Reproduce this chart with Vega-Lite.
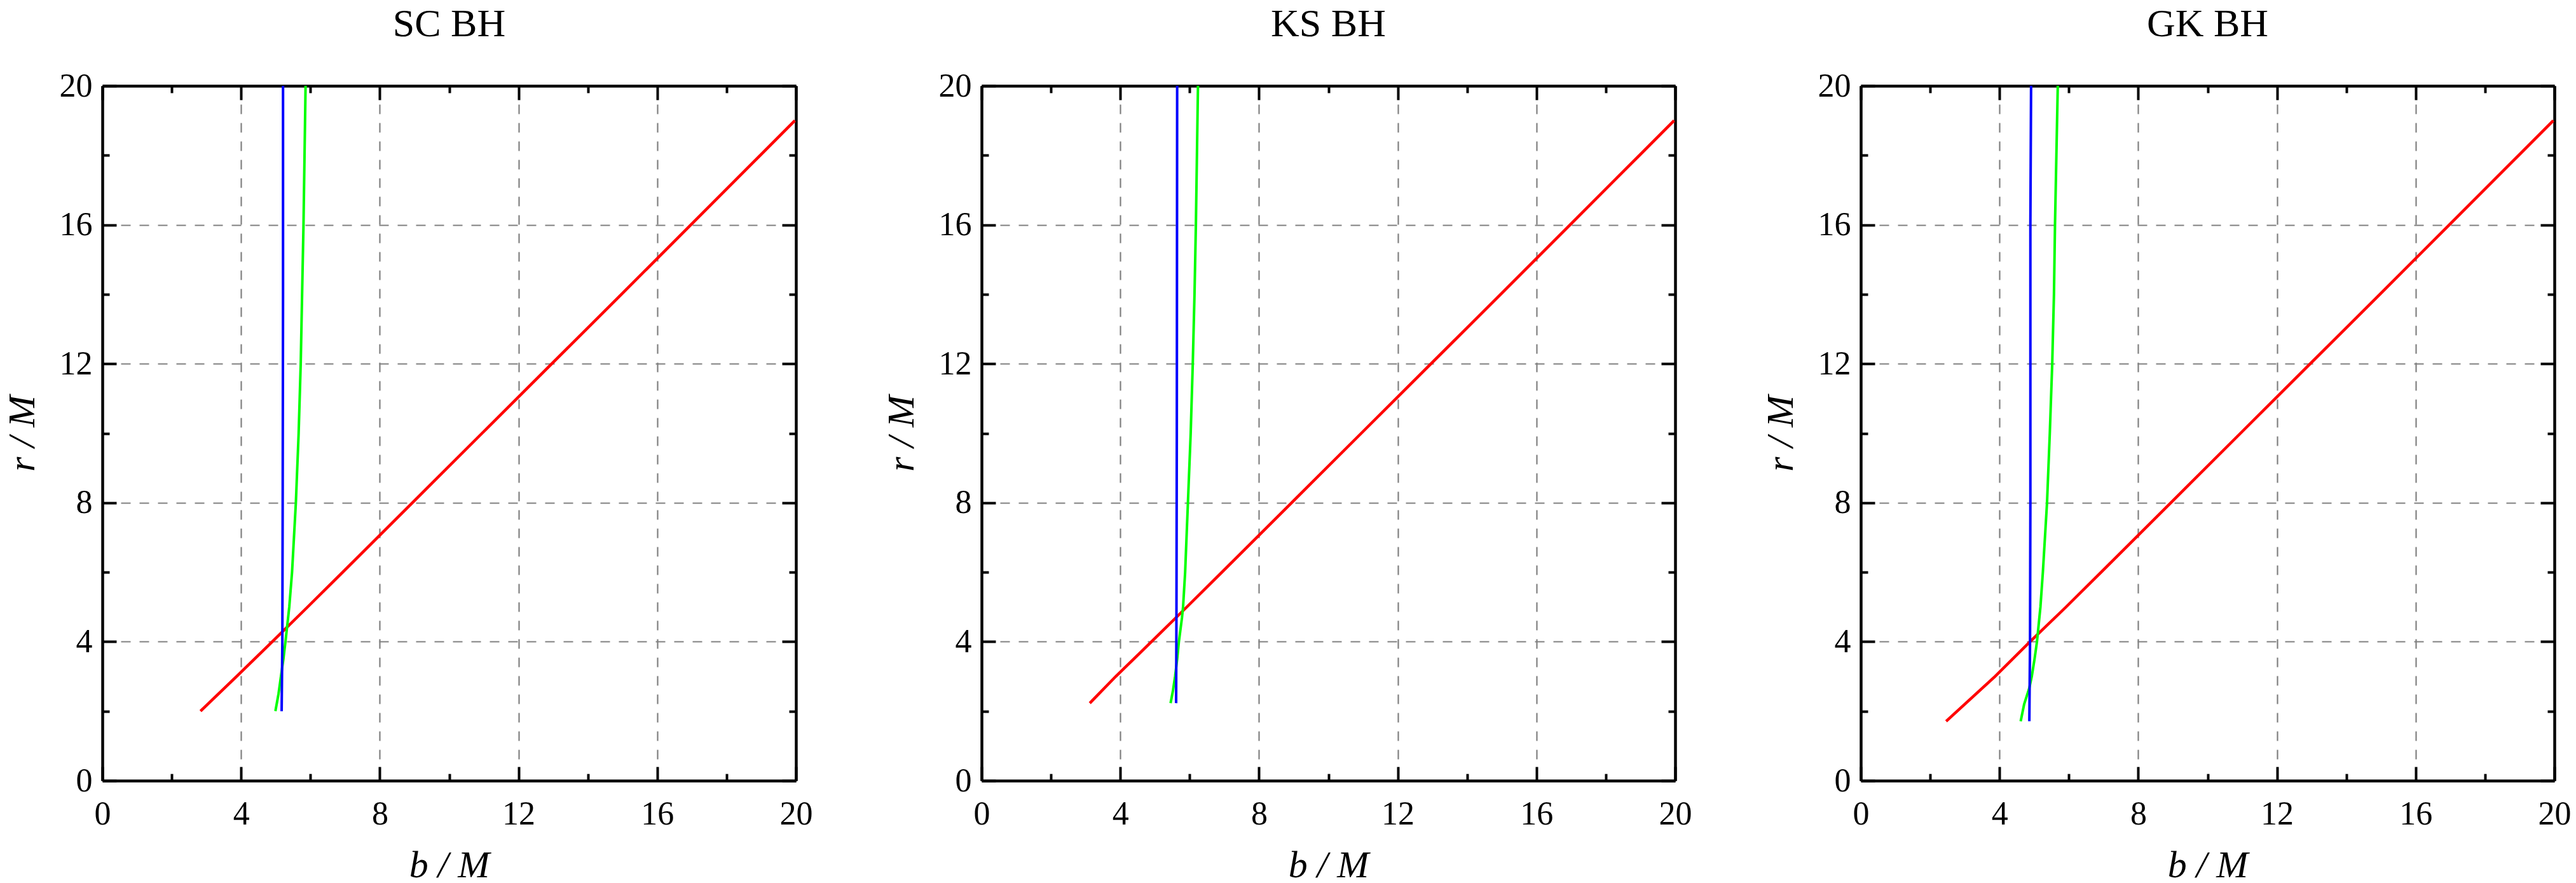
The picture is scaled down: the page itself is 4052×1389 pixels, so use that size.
{
  "$schema": "https://vega.github.io/schema/vega-lite/v6.json",
  "bounds": "flush",
  "padding": {"left": 5, "top": 7, "right": 10, "bottom": 5},
  "config": {
    "font": "Liberation Serif",
    "view": {"stroke": null},
    "concat": {"spacing": 292},
    "axis": {
      "domainColor": "black", "domainWidth": 4.5,
      "tickColor": "black", "tickWidth": 4, "tickSize": -22,
      "labelFont": "Liberation Serif", "labelFontSize": 52, "labelColor": "black", "labelFlush": false, "labelOverlap": false,
      "titleFont": "Liberation Serif", "titleFontSize": 60, "titleFontStyle": "italic", "titleFontWeight": "normal", "titleColor": "black",
      "gridColor": "#808080", "gridDash": [15, 14], "gridWidth": 2.2
    },
    "axisX": {"labelPadding": 49, "titlePadding": 26},
    "axisY": {"labelPadding": 38, "titlePadding": 27},
    "title": {"font": "Liberation Serif", "fontSize": 62, "fontWeight": "normal", "color": "black", "baseline": "alphabetic", "offset": 39, "anchor": "middle", "frame": "group"}
  },
  "datasets": {
    "curves": [
      {"p": "SC", "c": "red", "b": 2.83, "r": 2}, {"p": "SC", "c": "red", "b": 3.87, "r": 3}, {"p": "SC", "c": "red", "b": 4.90, "r": 4},
      {"p": "SC", "c": "red", "b": 5.92, "r": 5}, {"p": "SC", "c": "red", "b": 6.93, "r": 6}, {"p": "SC", "c": "red", "b": 8.94, "r": 8},
      {"p": "SC", "c": "red", "b": 10.95, "r": 10}, {"p": "SC", "c": "red", "b": 12.96, "r": 12}, {"p": "SC", "c": "red", "b": 14.97, "r": 14},
      {"p": "SC", "c": "red", "b": 16.97, "r": 16}, {"p": "SC", "c": "red", "b": 18.97, "r": 18}, {"p": "SC", "c": "red", "b": 19.97, "r": 19},
      {"p": "SC", "c": "green", "b": 4.99, "r": 2}, {"p": "SC", "c": "green", "b": 5.08, "r": 2.5}, {"p": "SC", "c": "green", "b": 5.15, "r": 3},
      {"p": "SC", "c": "green", "b": 5.22, "r": 3.5}, {"p": "SC", "c": "green", "b": 5.28, "r": 4}, {"p": "SC", "c": "green", "b": 5.39, "r": 5},
      {"p": "SC", "c": "green", "b": 5.47, "r": 6}, {"p": "SC", "c": "green", "b": 5.58, "r": 8}, {"p": "SC", "c": "green", "b": 5.66, "r": 10},
      {"p": "SC", "c": "green", "b": 5.72, "r": 12}, {"p": "SC", "c": "green", "b": 5.76, "r": 14}, {"p": "SC", "c": "green", "b": 5.80, "r": 16},
      {"p": "SC", "c": "green", "b": 5.83, "r": 18}, {"p": "SC", "c": "green", "b": 5.86, "r": 20},
      {"p": "SC", "c": "blue", "b": 5.17, "r": 2}, {"p": "SC", "c": "blue", "b": 5.19, "r": 4}, {"p": "SC", "c": "blue", "b": 5.20, "r": 8},
      {"p": "SC", "c": "blue", "b": 5.21, "r": 14}, {"p": "SC", "c": "blue", "b": 5.21, "r": 20},

      {"p": "KS", "c": "red", "b": 3.12, "r": 2.23}, {"p": "KS", "c": "red", "b": 3.87, "r": 3}, {"p": "KS", "c": "red", "b": 4.90, "r": 4},
      {"p": "KS", "c": "red", "b": 5.92, "r": 5}, {"p": "KS", "c": "red", "b": 6.93, "r": 6}, {"p": "KS", "c": "red", "b": 8.94, "r": 8},
      {"p": "KS", "c": "red", "b": 10.95, "r": 10}, {"p": "KS", "c": "red", "b": 12.96, "r": 12}, {"p": "KS", "c": "red", "b": 14.97, "r": 14},
      {"p": "KS", "c": "red", "b": 16.97, "r": 16}, {"p": "KS", "c": "red", "b": 18.97, "r": 18}, {"p": "KS", "c": "red", "b": 19.97, "r": 19},
      {"p": "KS", "c": "green", "b": 5.45, "r": 2.23}, {"p": "KS", "c": "green", "b": 5.52, "r": 2.6}, {"p": "KS", "c": "green", "b": 5.58, "r": 3},
      {"p": "KS", "c": "green", "b": 5.64, "r": 3.5}, {"p": "KS", "c": "green", "b": 5.69, "r": 4}, {"p": "KS", "c": "green", "b": 5.78, "r": 4.7},
      {"p": "KS", "c": "green", "b": 5.81, "r": 5}, {"p": "KS", "c": "green", "b": 5.87, "r": 6}, {"p": "KS", "c": "green", "b": 5.95, "r": 8},
      {"p": "KS", "c": "green", "b": 6.03, "r": 10}, {"p": "KS", "c": "green", "b": 6.09, "r": 12}, {"p": "KS", "c": "green", "b": 6.14, "r": 14},
      {"p": "KS", "c": "green", "b": 6.18, "r": 16}, {"p": "KS", "c": "green", "b": 6.21, "r": 18}, {"p": "KS", "c": "green", "b": 6.24, "r": 20},
      {"p": "KS", "c": "blue", "b": 5.61, "r": 2.23}, {"p": "KS", "c": "blue", "b": 5.62, "r": 5}, {"p": "KS", "c": "blue", "b": 5.63, "r": 10},
      {"p": "KS", "c": "blue", "b": 5.64, "r": 20},

      {"p": "GK", "c": "red", "b": 2.46, "r": 1.71}, {"p": "GK", "c": "red", "b": 3.87, "r": 3}, {"p": "GK", "c": "red", "b": 4.88, "r": 4},
      {"p": "GK", "c": "red", "b": 5.92, "r": 5}, {"p": "GK", "c": "red", "b": 6.93, "r": 6}, {"p": "GK", "c": "red", "b": 8.94, "r": 8},
      {"p": "GK", "c": "red", "b": 10.95, "r": 10}, {"p": "GK", "c": "red", "b": 12.96, "r": 12}, {"p": "GK", "c": "red", "b": 14.97, "r": 14},
      {"p": "GK", "c": "red", "b": 16.97, "r": 16}, {"p": "GK", "c": "red", "b": 18.97, "r": 18}, {"p": "GK", "c": "red", "b": 19.97, "r": 19},
      {"p": "GK", "c": "green", "b": 4.61, "r": 1.71}, {"p": "GK", "c": "green", "b": 4.71, "r": 2.2}, {"p": "GK", "c": "green", "b": 4.86, "r": 2.67},
      {"p": "GK", "c": "green", "b": 4.93, "r": 3}, {"p": "GK", "c": "green", "b": 5.01, "r": 3.5}, {"p": "GK", "c": "green", "b": 5.08, "r": 4},
      {"p": "GK", "c": "green", "b": 5.18, "r": 5}, {"p": "GK", "c": "green", "b": 5.25, "r": 6}, {"p": "GK", "c": "green", "b": 5.37, "r": 8},
      {"p": "GK", "c": "green", "b": 5.45, "r": 10}, {"p": "GK", "c": "green", "b": 5.52, "r": 12}, {"p": "GK", "c": "green", "b": 5.57, "r": 14},
      {"p": "GK", "c": "green", "b": 5.60, "r": 16}, {"p": "GK", "c": "green", "b": 5.64, "r": 18}, {"p": "GK", "c": "green", "b": 5.68, "r": 20},
      {"p": "GK", "c": "blue", "b": 4.86, "r": 1.71}, {"p": "GK", "c": "blue", "b": 4.88, "r": 4}, {"p": "GK", "c": "blue", "b": 4.89, "r": 8},
      {"p": "GK", "c": "blue", "b": 4.89, "r": 16}, {"p": "GK", "c": "blue", "b": 4.91, "r": 20}
    ]
  },
  "hconcat": [
    {
      "title": "SC BH",
      "width": 1091, "height": 1093,
      "data": {"name": "curves"},
      "transform": [{"filter": "datum.p === 'SC'"}],
      "encoding": {
        "color": {"field": "c", "type": "nominal", "scale": {"domain": ["red", "green", "blue"], "range": ["#ff0000", "#00ff00", "#0000ff"]}, "legend": null},
        "order": {"field": "r", "type": "quantitative"}
      },
      "layer": [
        {
          "transform": [{"filter": "datum.c === 'red'"}],
          "mark": {"type": "line", "strokeWidth": 4.5, "clip": true},
          "encoding": {
            "x": {"field": "b", "type": "quantitative", "scale": {"domain": [0, 20], "nice": false, "zero": false},
              "axis": {"orient": "bottom", "title": "b / M", "values": [0, 2, 4, 6, 8, 10, 12, 14, 16, 18, 20], "grid": true,
                "gridOpacity": {"condition": {"test": "datum.value % 4 === 0 && datum.value > 0 && datum.value < 20", "value": 1}, "value": 0},
                "labelExpr": "datum.value % 4 === 0 ? datum.label : ''",
                "tickDash": {"condition": {"test": "datum.value % 4 !== 0", "value": [11, 60]}, "value": []}}},
            "y": {"field": "r", "type": "quantitative", "scale": {"domain": [0, 20], "nice": false, "zero": false},
              "axis": {"orient": "left", "title": "r / M", "values": [0, 2, 4, 6, 8, 10, 12, 14, 16, 18, 20], "grid": true,
                "gridOpacity": {"condition": {"test": "datum.value % 4 === 0 && datum.value > 0 && datum.value < 20", "value": 1}, "value": 0},
                "labelExpr": "datum.value % 4 === 0 ? datum.label : ''",
                "tickDash": {"condition": {"test": "datum.value % 4 !== 0", "value": [11, 60]}, "value": []}}}
          }
        },
        {
          "transform": [{"filter": "datum.c === 'green'"}],
          "mark": {"type": "line", "strokeWidth": 4, "clip": true},
          "encoding": {
            "x": {"field": "b", "type": "quantitative", "scale": {"domain": [0, 20], "nice": false, "zero": false},
              "axis": {"orient": "top", "title": null, "labels": false, "grid": false, "values": [0, 2, 4, 6, 8, 10, 12, 14, 16, 18, 20],
                "tickDash": {"condition": {"test": "datum.value % 4 !== 0", "value": [11, 60]}, "value": []}}},
            "y": {"field": "r", "type": "quantitative", "scale": {"domain": [0, 20], "nice": false, "zero": false},
              "axis": {"orient": "right", "title": null, "labels": false, "grid": false, "values": [0, 2, 4, 6, 8, 10, 12, 14, 16, 18, 20],
                "tickDash": {"condition": {"test": "datum.value % 4 !== 0", "value": [11, 60]}, "value": []}}}
          }
        },
        {
          "transform": [{"filter": "datum.c === 'blue'"}],
          "mark": {"type": "line", "strokeWidth": 4, "clip": true},
          "encoding": {
            "x": {"field": "b", "type": "quantitative", "scale": {"domain": [0, 20], "nice": false, "zero": false}, "axis": null},
            "y": {"field": "r", "type": "quantitative", "scale": {"domain": [0, 20], "nice": false, "zero": false}, "axis": null}
          }
        }
      ],
      "resolve": {"axis": {"x": "independent", "y": "independent"}}
    },
    {
      "title": "KS BH",
      "width": 1091, "height": 1093,
      "data": {"name": "curves"},
      "transform": [{"filter": "datum.p === 'KS'"}],
      "encoding": {
        "color": {"field": "c", "type": "nominal", "scale": {"domain": ["red", "green", "blue"], "range": ["#ff0000", "#00ff00", "#0000ff"]}, "legend": null},
        "order": {"field": "r", "type": "quantitative"}
      },
      "layer": [
        {
          "transform": [{"filter": "datum.c === 'red'"}],
          "mark": {"type": "line", "strokeWidth": 4.5, "clip": true},
          "encoding": {
            "x": {"field": "b", "type": "quantitative", "scale": {"domain": [0, 20], "nice": false, "zero": false},
              "axis": {"orient": "bottom", "title": "b / M", "values": [0, 2, 4, 6, 8, 10, 12, 14, 16, 18, 20], "grid": true,
                "gridOpacity": {"condition": {"test": "datum.value % 4 === 0 && datum.value > 0 && datum.value < 20", "value": 1}, "value": 0},
                "labelExpr": "datum.value % 4 === 0 ? datum.label : ''",
                "tickDash": {"condition": {"test": "datum.value % 4 !== 0", "value": [11, 60]}, "value": []}}},
            "y": {"field": "r", "type": "quantitative", "scale": {"domain": [0, 20], "nice": false, "zero": false},
              "axis": {"orient": "left", "title": "r / M", "values": [0, 2, 4, 6, 8, 10, 12, 14, 16, 18, 20], "grid": true,
                "gridOpacity": {"condition": {"test": "datum.value % 4 === 0 && datum.value > 0 && datum.value < 20", "value": 1}, "value": 0},
                "labelExpr": "datum.value % 4 === 0 ? datum.label : ''",
                "tickDash": {"condition": {"test": "datum.value % 4 !== 0", "value": [11, 60]}, "value": []}}}
          }
        },
        {
          "transform": [{"filter": "datum.c === 'green'"}],
          "mark": {"type": "line", "strokeWidth": 4, "clip": true},
          "encoding": {
            "x": {"field": "b", "type": "quantitative", "scale": {"domain": [0, 20], "nice": false, "zero": false},
              "axis": {"orient": "top", "title": null, "labels": false, "grid": false, "values": [0, 2, 4, 6, 8, 10, 12, 14, 16, 18, 20],
                "tickDash": {"condition": {"test": "datum.value % 4 !== 0", "value": [11, 60]}, "value": []}}},
            "y": {"field": "r", "type": "quantitative", "scale": {"domain": [0, 20], "nice": false, "zero": false},
              "axis": {"orient": "right", "title": null, "labels": false, "grid": false, "values": [0, 2, 4, 6, 8, 10, 12, 14, 16, 18, 20],
                "tickDash": {"condition": {"test": "datum.value % 4 !== 0", "value": [11, 60]}, "value": []}}}
          }
        },
        {
          "transform": [{"filter": "datum.c === 'blue'"}],
          "mark": {"type": "line", "strokeWidth": 4, "clip": true},
          "encoding": {
            "x": {"field": "b", "type": "quantitative", "scale": {"domain": [0, 20], "nice": false, "zero": false}, "axis": null},
            "y": {"field": "r", "type": "quantitative", "scale": {"domain": [0, 20], "nice": false, "zero": false}, "axis": null}
          }
        }
      ],
      "resolve": {"axis": {"x": "independent", "y": "independent"}}
    },
    {
      "title": "GK BH",
      "width": 1091, "height": 1093,
      "data": {"name": "curves"},
      "transform": [{"filter": "datum.p === 'GK'"}],
      "encoding": {
        "color": {"field": "c", "type": "nominal", "scale": {"domain": ["red", "green", "blue"], "range": ["#ff0000", "#00ff00", "#0000ff"]}, "legend": null},
        "order": {"field": "r", "type": "quantitative"}
      },
      "layer": [
        {
          "transform": [{"filter": "datum.c === 'red'"}],
          "mark": {"type": "line", "strokeWidth": 4.5, "clip": true},
          "encoding": {
            "x": {"field": "b", "type": "quantitative", "scale": {"domain": [0, 20], "nice": false, "zero": false},
              "axis": {"orient": "bottom", "title": "b / M", "values": [0, 2, 4, 6, 8, 10, 12, 14, 16, 18, 20], "grid": true,
                "gridOpacity": {"condition": {"test": "datum.value % 4 === 0 && datum.value > 0 && datum.value < 20", "value": 1}, "value": 0},
                "labelExpr": "datum.value % 4 === 0 ? datum.label : ''",
                "tickDash": {"condition": {"test": "datum.value % 4 !== 0", "value": [11, 60]}, "value": []}}},
            "y": {"field": "r", "type": "quantitative", "scale": {"domain": [0, 20], "nice": false, "zero": false},
              "axis": {"orient": "left", "title": "r / M", "values": [0, 2, 4, 6, 8, 10, 12, 14, 16, 18, 20], "grid": true,
                "gridOpacity": {"condition": {"test": "datum.value % 4 === 0 && datum.value > 0 && datum.value < 20", "value": 1}, "value": 0},
                "labelExpr": "datum.value % 4 === 0 ? datum.label : ''",
                "tickDash": {"condition": {"test": "datum.value % 4 !== 0", "value": [11, 60]}, "value": []}}}
          }
        },
        {
          "transform": [{"filter": "datum.c === 'green'"}],
          "mark": {"type": "line", "strokeWidth": 4, "clip": true},
          "encoding": {
            "x": {"field": "b", "type": "quantitative", "scale": {"domain": [0, 20], "nice": false, "zero": false},
              "axis": {"orient": "top", "title": null, "labels": false, "grid": false, "values": [0, 2, 4, 6, 8, 10, 12, 14, 16, 18, 20],
                "tickDash": {"condition": {"test": "datum.value % 4 !== 0", "value": [11, 60]}, "value": []}}},
            "y": {"field": "r", "type": "quantitative", "scale": {"domain": [0, 20], "nice": false, "zero": false},
              "axis": {"orient": "right", "title": null, "labels": false, "grid": false, "values": [0, 2, 4, 6, 8, 10, 12, 14, 16, 18, 20],
                "tickDash": {"condition": {"test": "datum.value % 4 !== 0", "value": [11, 60]}, "value": []}}}
          }
        },
        {
          "transform": [{"filter": "datum.c === 'blue'"}],
          "mark": {"type": "line", "strokeWidth": 4, "clip": true},
          "encoding": {
            "x": {"field": "b", "type": "quantitative", "scale": {"domain": [0, 20], "nice": false, "zero": false}, "axis": null},
            "y": {"field": "r", "type": "quantitative", "scale": {"domain": [0, 20], "nice": false, "zero": false}, "axis": null}
          }
        }
      ],
      "resolve": {"axis": {"x": "independent", "y": "independent"}}
    }
  ]
}
